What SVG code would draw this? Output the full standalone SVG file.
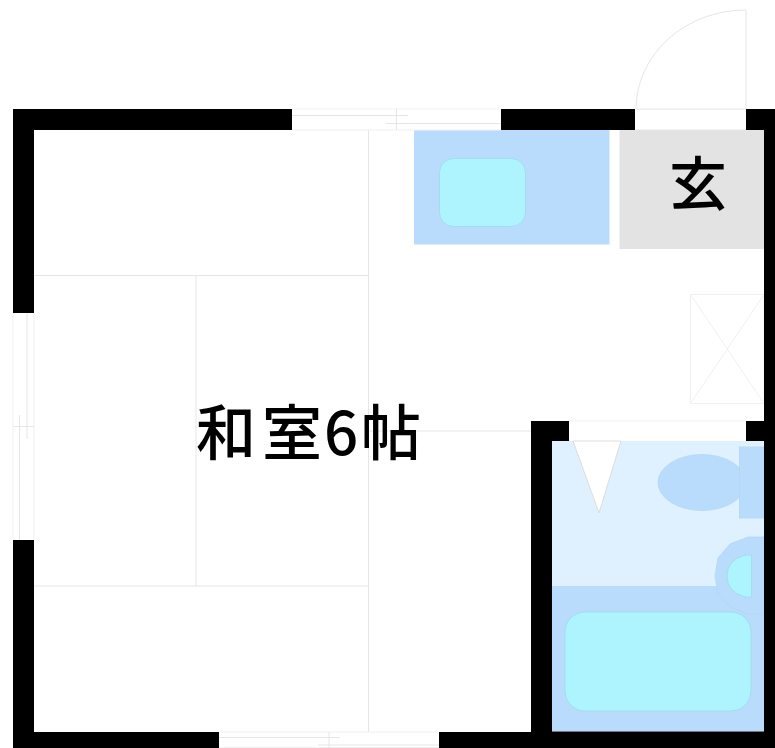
<svg xmlns="http://www.w3.org/2000/svg" width="775" height="748" viewBox="0 0 775 748">
<style>
.w{fill:#000}
.l{fill:none;stroke:#e6e6e6;stroke-width:1}
.f{fill:none;stroke:#f0f0f0;stroke-width:1}
.b{fill:#badcfc;stroke:#b4d6f4;stroke-width:.8}
.c{fill:#adf4ff;stroke:#a2dcee;stroke-width:1}
.t{font-family:"Noto Sans CJK JP","Liberation Sans",sans-serif;fill:#000;font-weight:500}
</style>
<rect width="775" height="748" fill="#fff"/>
<g id="tatami">
<path class="l" d="M368.500 130V732M34 275.500H368.500M196 275.500V586M34 586H368.500M368.500 431H531"/>
</g>
<g id="genkan"><rect x="619.500" y="130" width="145" height="119" fill="#e3e3e3"/></g>
<g id="kitchen">
<rect x="414" y="130" width="195.500" height="114.500" fill="#badcfc"/>
<rect class="c" x="439.500" y="158.500" width="86" height="68" rx="14"/>
</g>
<g id="closet"><path class="f" d="M690.500 294.500H764V403.500H690.500ZM690.500 294.500L764 403.500M764 294.500L690.500 403.500"/></g>
<g id="bath">
<rect x="552" y="441" width="212" height="145" fill="#dff0ff"/>
<rect x="552" y="586" width="212" height="145.500" fill="#badcfc"/>
<path d="M573 441H621L599 513Z" fill="#fff" stroke="#dcdcdc"/>
<ellipse class="b" cx="702" cy="482.500" rx="44" ry="28"/>
<rect class="b" x="739.500" y="447" width="24.500" height="71"/>
<path class="b" d="M764 537H748L730 544L718 558L715 576L718 594L730 607L748 614H764Z"/>
<path class="c" d="M751.500 555H745Q727 560 727 576Q727 592 745 597H751.500Z"/>
<rect class="c" x="565" y="612" width="186" height="99" rx="20"/>
</g>
<g id="walls">
<path class="w" d="M13 109H292V130H34V313H13ZM501 109H635V130H501ZM746 109H775V748H439V732H531V421H569V441H552V731.500H764V441H746V421H764V130H746ZM13 540H34V732H219V748H13Z"/>
</g>
<g id="door"><path class="l" d="M636 109H746M636 130H746M746 109V10A110 99 0 0 0 636 109"/></g>
<g id="windows">
<path class="f" d="M292 109H501M292 130H501M13 313V540M34 313V540M219 732H439M219 747.500H439M569 421H746"/>
<path class="l" d="M292 115.500H408M386 123.500H501M396.500 109V130M27 313V439M19.500 415V540M13 426.500H34M219 737.500H340M318 745H439M329 732V748"/>
</g>
<g id="labels">
<text class="t" x="196 262 324 361" y="455" font-size="60">和室6帖</text>
<text class="t" x="669" y="205" font-size="58">玄</text>
</g>
</svg>
